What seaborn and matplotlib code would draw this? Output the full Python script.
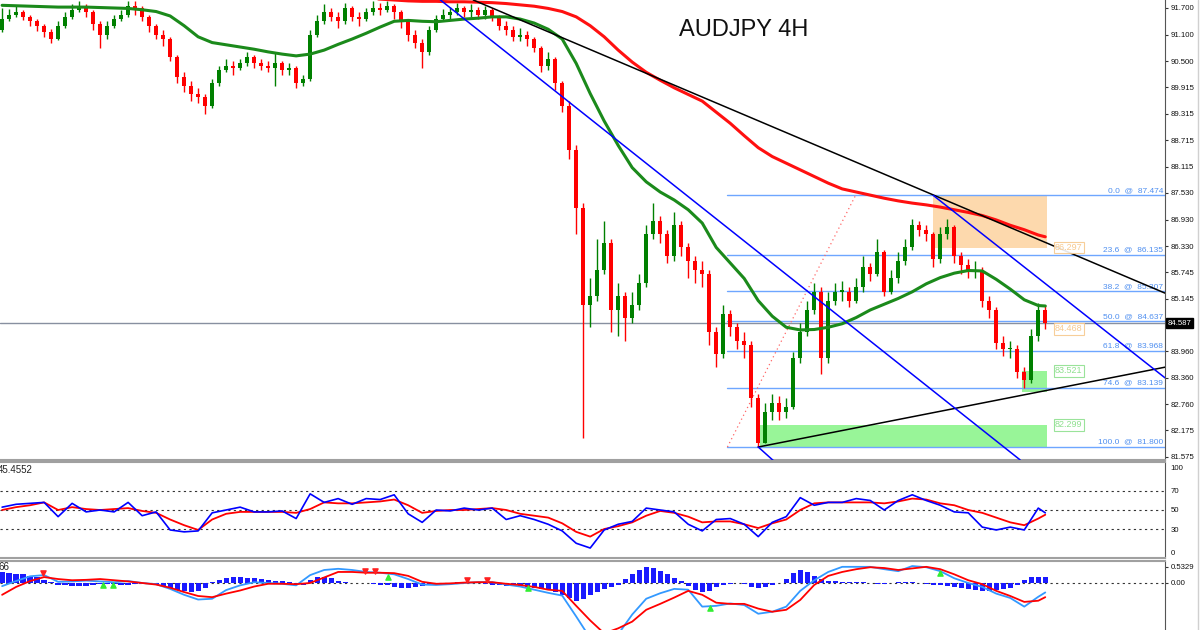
import numpy as np
import pandas as pd
import matplotlib
matplotlib.use("Agg")
import matplotlib.pyplot as plt
from matplotlib.lines import Line2D
import seaborn as sns

# ---------------- data ----------------
first_open = 91.20
close = [91.45, 91.55, 91.60, 91.50, 91.40, 91.30, 91.15, 91.00, 91.30, 91.50,
         91.65, 91.70, 91.60, 91.35, 91.10, 91.30, 91.45, 91.55, 91.75, 91.70,
         91.50, 91.30, 91.10, 91.00, 90.60, 90.15, 89.95, 89.75, 89.70, 89.50,
         90.00, 90.30, 90.40, 90.35, 90.45, 90.60, 90.45, 90.40, 90.35, 90.45,
         90.30, 90.35, 90.00, 90.10, 91.10, 91.40, 91.60, 91.50, 91.40, 91.70,
         91.50, 91.45, 91.60, 91.70, 91.65, 91.75, 91.60, 91.40, 91.10, 90.90,
         90.70, 91.20, 91.45, 91.55, 91.60, 91.70, 91.60, 91.65, 91.55, 91.65,
         91.50, 91.30, 91.20, 91.05, 91.10, 91.00, 90.80, 90.40, 90.55, 90.00,
         89.50, 88.50, 87.20, 85.00, 85.20, 85.80, 86.40, 84.90, 85.20, 84.70,
         85.00, 85.50, 86.60, 86.90, 86.60, 86.10, 86.80, 86.30, 86.00, 85.80,
         85.70, 84.40, 83.90, 84.80, 84.50, 84.20, 84.10, 82.90, 81.90, 82.60,
         82.80, 82.60, 82.70, 83.80, 84.40, 84.90, 85.30, 83.80, 85.10, 85.30,
         85.30, 85.10, 85.40, 85.85, 85.70, 86.20, 85.30, 85.60, 86.00, 86.30,
         86.80, 86.70, 86.60, 86.05, 86.60, 86.75, 86.10, 85.90, 85.75, 85.80,
         85.10, 84.90, 84.15, 84.00, 84.00, 83.50, 83.30, 84.30, 84.90, 84.587]
high = [91.70, 91.68, 91.75, 91.66, 91.55, 91.45, 91.35, 91.22, 91.40, 91.60,
        91.78, 91.85, 91.80, 91.65, 91.40, 91.40, 91.55, 91.65, 91.85, 91.85,
        91.75, 91.55, 91.35, 91.20, 91.05, 90.65, 90.25, 90.05, 89.90, 89.75,
        90.10, 90.40, 90.55, 90.50, 90.55, 90.70, 90.65, 90.55, 90.50, 90.70,
        90.50, 90.45, 90.40, 90.20, 91.20, 91.55, 91.80, 91.70, 91.60, 91.82,
        91.75, 91.60, 91.70, 91.85, 91.82, 91.85, 91.80, 91.65, 91.45, 91.20,
        91.00, 91.30, 91.55, 91.68, 91.72, 91.82, 91.75, 91.80, 91.72, 91.75,
        91.70, 91.55, 91.40, 91.30, 91.25, 91.18, 91.05, 90.85, 90.70, 90.60,
        90.05, 89.60, 88.60, 87.30, 85.60, 86.50, 86.90, 86.50, 85.50, 85.30,
        85.30, 85.70, 86.80, 87.30, 87.00, 86.70, 87.10, 86.90, 86.40, 86.10,
        86.00, 85.80, 84.50, 85.00, 84.90, 84.60, 84.40, 84.20, 83.00, 82.80,
        83.00, 82.95, 82.90, 83.95, 84.60, 85.10, 85.50, 85.40, 85.30, 85.50,
        85.55, 85.40, 85.60, 86.10, 85.95, 86.50, 86.25, 85.80, 86.20, 86.50,
        86.95, 86.90, 86.80, 86.65, 86.75, 86.95, 86.80, 86.20, 86.05, 86.00,
        85.85, 85.20, 84.95, 84.30, 84.20, 84.10, 83.60, 84.45, 85.05, 85.00]
low = [91.15, 91.40, 91.50, 91.42, 91.30, 91.18, 91.05, 90.90, 90.98, 91.25,
       91.45, 91.60, 91.50, 91.20, 90.80, 91.00, 91.25, 91.40, 91.50, 91.55,
       91.40, 91.15, 91.00, 90.85, 90.50, 90.00, 89.80, 89.60, 89.55, 89.30,
       89.45, 89.95, 90.25, 90.20, 90.30, 90.40, 90.35, 90.30, 90.25, 89.95,
       90.20, 90.20, 89.90, 89.95, 90.05, 91.05, 91.35, 91.40, 91.25, 91.35,
       91.40, 91.30, 91.40, 91.55, 91.55, 91.60, 91.45, 91.25, 90.95, 90.80,
       90.35, 90.65, 91.15, 91.40, 91.45, 91.55, 91.50, 91.50, 91.45, 91.45,
       91.40, 91.20, 91.10, 90.95, 90.95, 90.85, 90.70, 90.25, 90.30, 89.85,
       89.35, 88.30, 86.60, 82.00, 84.50, 85.10, 85.70, 84.40, 84.30, 84.20,
       84.60, 84.90, 85.40, 86.50, 86.40, 85.95, 86.00, 86.10, 85.60, 85.50,
       85.40, 84.10, 83.60, 83.80, 84.30, 84.00, 83.80, 82.70, 81.80, 81.90,
       82.40, 82.40, 82.45, 82.65, 83.70, 84.30, 84.80, 83.45, 83.70, 85.00,
       85.10, 84.95, 85.05, 85.30, 85.55, 85.65, 85.20, 85.25, 85.50, 85.90,
       86.25, 86.55, 86.45, 85.85, 85.95, 86.50, 85.95, 85.70, 85.60, 85.60,
       84.95, 84.70, 84.00, 83.85, 83.80, 83.35, 83.14, 83.25, 84.20, 84.45]

# moving averages (green fast, red slow), sampled every 2 bars
green_ma = [91.76, 91.75, 91.74, 91.73, 91.72, 91.72, 91.72, 91.71, 91.70, 91.69,
            91.66, 91.62, 91.52, 91.30, 91.05, 90.92, 90.87, 90.82, 90.77, 90.71,
            90.66, 90.62, 90.66, 90.75, 90.88, 91.00, 91.13, 91.27, 91.40, 91.42,
            91.40, 91.39, 91.42, 91.45, 91.47, 91.50, 91.50, 91.45, 91.36, 91.22,
            91.00, 90.45, 89.77, 89.15, 88.60, 88.10, 87.78, 87.55, 87.37, 87.15,
            86.85, 86.30, 85.95, 85.60, 85.10, 84.75, 84.50, 84.44, 84.45, 84.50,
            84.58, 84.72, 84.89, 85.02, 85.15, 85.30, 85.48, 85.62, 85.72, 85.78,
            85.77, 85.58, 85.36, 85.12, 84.99, 84.98]
red_ma_start = 52
red_ma = [91.92, 91.90, 91.88, 91.86, 91.85, 91.85, 91.84, 91.84, 91.83, 91.82,
          91.80, 91.77, 91.74, 91.69, 91.62, 91.50, 91.30, 91.05, 90.75, 90.48,
          90.25, 90.07, 89.90, 89.75, 89.60, 89.35, 89.10, 88.82, 88.55, 88.35,
          88.20, 88.05, 87.90, 87.75, 87.62, 87.55, 87.48, 87.41, 87.35, 87.30,
          87.26, 87.21, 87.15, 87.09, 87.02, 86.92, 86.80, 86.70, 86.58, 86.54]

# RSI(14) and its moving average, sampled every 2 bars
rsi = [53, 56, 57, 58, 43, 57, 48, 50, 48, 58, 44, 48, 29, 27, 28, 47, 50, 53, 48, 48,
       49, 41, 67, 58, 62, 56, 62, 61, 66, 46, 37, 50, 49, 52, 50, 52, 40, 44, 40, 35,
       28, 15, 10, 29, 35, 38, 52, 50, 48, 35, 28, 40, 41, 35, 22, 37, 43, 63, 55, 58,
       58, 62, 60, 50, 60, 66, 60, 55, 48, 47, 32, 29, 32, 29, 52, 47]
rsi_ma = [50, 53, 55, 58, 50, 53, 51, 50, 51, 52, 49, 47, 40, 34, 29, 40, 46, 48, 48, 48,
          48, 47, 51, 58, 57, 57, 58, 59, 61, 55, 47, 49, 50, 50, 51, 52, 50, 46, 44, 42,
          36, 27, 22, 30, 33, 37, 44, 49, 47, 43, 37, 38, 38, 35, 31, 36, 40, 50, 57, 58,
          58, 58, 58, 57, 59, 62, 61, 57, 55, 50, 47, 42, 37, 34, 41, 45]

# MACD main / signal (every 2 bars) and histogram (every bar)
macd_main = [-0.08, 0.05, 0.17, 0.20, 0.03, 0.04, 0.06, 0.04, 0.02, 0.05,
             0.00, -0.03, -0.15, -0.30, -0.42, -0.40, -0.18, -0.06, 0.02, 0.00,
             -0.02, -0.06, 0.20, 0.33, 0.36, 0.33, 0.28, 0.26, 0.22, 0.10,
             -0.04, -0.05, -0.03, 0.00, 0.02, 0.02, -0.04, -0.09, -0.17, -0.25,
             -0.32, -0.85, -1.40, -1.55, -1.30, -0.80, -0.40, -0.26, -0.15, -0.17,
             -0.60, -0.58, -0.52, -0.56, -0.78, -0.73, -0.60, -0.20, 0.07, 0.28,
             0.41, 0.41, 0.41, 0.35, 0.30, 0.43, 0.40, 0.30, 0.12, 0.00,
             -0.10, -0.27, -0.38, -0.60, -0.35, -0.24]
macd_signal = [-0.30, -0.10, 0.05, 0.15, 0.10, 0.07, 0.08, 0.10, 0.07, 0.04,
               0.00, -0.04, -0.12, -0.23, -0.33, -0.36, -0.27, -0.19, -0.09, -0.02,
               -0.02, -0.03, 0.00, 0.14, 0.28, 0.28, 0.26, 0.26, 0.25, 0.18,
               0.03, -0.02, -0.01, 0.01, 0.02, 0.02, -0.02, -0.05, -0.10, -0.17,
               -0.20, -0.58, -0.95, -1.28, -1.15, -0.98, -0.68, -0.53, -0.37, -0.20,
               -0.30, -0.50, -0.53, -0.53, -0.65, -0.73, -0.68, -0.43, -0.05, 0.18,
               0.28, 0.35, 0.40, 0.38, 0.33, 0.37, 0.41, 0.35, 0.22, 0.07,
               -0.03, -0.20, -0.33, -0.48, -0.45, -0.36]
macd_hist = [0.28, 0.26, 0.24, 0.22, 0.18, 0.14, 0.08, 0.03,
             -0.04, -0.06, -0.07, -0.08, -0.07, -0.05, -0.03,
             -0.02, -0.03, -0.04, -0.04, -0.03, -0.02, -0.03, -0.05,
             -0.08, -0.12, -0.17, -0.21, -0.23, -0.20, -0.12,
             0.02, 0.08, 0.12, 0.14, 0.14, 0.13, 0.12, 0.10, 0.08, 0.06,
             0.04, 0.02, -0.03, -0.04,
             0.08, 0.14, 0.15, 0.12,
             0.06, 0.03, 0.01, -0.01, 0.00, -0.02, -0.04, -0.06,
             -0.10, -0.13, -0.13, -0.11, -0.07, -0.04,
             -0.02, 0.00, 0.01, 0.02, 0.02, 0.01, -0.01, -0.03, -0.05,
             -0.06, -0.07, -0.08, -0.08, -0.10, -0.12, -0.14, -0.15,
             -0.22, -0.30, -0.38, -0.46, -0.40, -0.30,
             -0.22, -0.16, -0.10, -0.04,
             0.10, 0.22, 0.33, 0.40, 0.37, 0.30, 0.22,
             0.12, 0.05,
             -0.08, -0.17, -0.23, -0.20, -0.10,
             -0.05, -0.02, 0.00, -0.03,
             -0.10, -0.13, -0.10, -0.05,
             0.00, 0.10,
             0.25, 0.33, 0.28, 0.18,
             0.10, 0.06, 0.04, 0.03, 0.02, 0.03, 0.02, 0.00,
             -0.02, -0.02, 0.00, 0.02, 0.03, 0.02, 0.00,
             -0.03, -0.05, -0.06, -0.08, -0.10, -0.12, -0.14,
             -0.17, -0.20, -0.20, -0.18, -0.15, -0.12,
             -0.05,
             0.08, 0.14, 0.15, 0.15]
sell_arrows_t = [5.9, 51.9, 53.3, 66.4, 69.3]
sell_arrows_v = [0.25, 0.30, 0.30, 0.08, 0.08]
buy_arrows_t = [14.4, 15.9, 55.1, 75.1, 101.1, 134.0]
buy_arrows_v = [-0.05, -0.05, 0.15, -0.13, -0.63, 0.25]

# drawn objects (bar index, price)
black_down = ([67.3, 166.1], [91.88, 85.27])
black_up = ([108.0, 166.1], [81.80, 83.60])
blue_down = ([62.6, 145.4], [91.88, 81.51])
blue_upper = ([133.0, 166.1], [87.474, 83.36])
blue_short = ([108.0, 110.4], [81.80, 81.46])
fib_trend = ([103.6, 121.9], [81.80, 87.474])
fib_levels = ["0.0", "23.6", "38.2", "50.0", "61.8", "74.6", "100.0"]
fib_prices = [87.474, 86.135, 85.307, 84.637, 83.968, 83.139, 81.800]
last_price = 84.587
orange_zone = (132.9, 149.3, 86.297, 87.474)
green_zone_small = (145.7, 149.3, 83.05, 83.521)
green_zone_big = (108.3, 149.3, 81.80, 82.299)
zone_labels = [("86.297", 86.297, "#f7c98e"), ("84.468", 84.468, "#f7c98e"),
               ("83.521", 83.521, "#8fe08f"), ("82.299", 82.299, "#8fe08f")]

price_ticks = [91.700, 91.100, 90.500, 89.915, 89.315, 88.715, 88.115, 87.530,
               86.930, 86.330, 85.745, 85.145, 83.960, 83.360, 82.760, 82.175, 81.575]

# ---------------- figure ----------------
sns.set_style("white")
plt.rcParams["font.family"] = ["Liberation Sans", "DejaVu Sans"]

n = len(close)
t = np.arange(n)
opens = [first_open] + close[:-1]
df = pd.DataFrame({"t": t, "open": opens, "high": high, "low": low, "close": close})
df["up"] = df["close"] >= df["open"]

fig = plt.figure(figsize=(12, 6.3), dpi=100)
W = 1165 / 1200
ax = fig.add_axes([0, 170 / 630, W, 460 / 630])
ax_rsi = fig.add_axes([0, 72 / 630, W, 96 / 630])
ax_macd = fig.add_axes([0, 0, W, 69 / 630])

xlim = (-0.3, 166.1)
for a in (ax, ax_rsi, ax_macd):
    a.set_xlim(*xlim)
    a.set_xticks([])
    a.set_facecolor("white")
    a.yaxis.tick_right()
    a.tick_params(axis="y", labelsize=5.6, length=2.5, pad=1.5, width=0.8,
                  labelcolor="#111111", color="#333333")
    a.spines["left"].set_visible(False)
    a.spines["right"].set_color("#555555")
    for s in ("top", "bottom"):
        a.spines[s].set_color("#a0a0a0")
        a.spines[s].set_linewidth(1.5)
ax.spines["top"].set_visible(False)
ax_macd.spines["bottom"].set_visible(False)

# --- main price panel
ax.set_ylim(81.507, 91.880)
green_c, red_c = "#008000", "#ff0000"

# zones behind candles
for (x0, x1, y0, y1), col in [(orange_zone, "#fdd9ad"), (green_zone_small, "#98f598"),
                               (green_zone_big, "#98f598")]:
    ax.fill_between([x0, x1], y0, y1, color=col, lw=0, zorder=1)

# fib levels
for lvl, p in zip(fib_levels, fib_prices):
    ax.plot([fib_trend[0][0], xlim[1]], [p, p], color="#6ea6ff", lw=1, zorder=2)
    ax.text(xlim[1] - 0.3, p + 0.03, f"{lvl}  @  {p:.3f}", ha="right", va="bottom",
            fontsize=6, color="#4f8ff0", zorder=6)
ax.plot(*fib_trend, color="#ff6666", lw=0.9, ls=(0, (1, 2.5)), zorder=2)
ax.axhline(last_price, color="#8890a0", lw=1, zorder=2)

cols = np.where(df["up"], green_c, red_c)
ax.vlines(df["t"], df["low"], df["high"], colors=cols, lw=1, zorder=3)
body_lo = df[["open", "close"]].min(axis=1)
body_h = (df["close"] - df["open"]).abs().clip(lower=0.03)
ax.bar(df["t"], body_h, bottom=body_lo, width=0.55, color=cols, lw=0, zorder=4)

half_t = list(range(0, n, 2)) + [n - 1]
sns.lineplot(x=half_t, y=green_ma, ax=ax, color="#1b8a1b", lw=2.2, zorder=5, legend=False)
red_t = list(range(red_ma_start, n, 2)) + [n - 1]
sns.lineplot(x=red_t, y=red_ma, ax=ax, color="#ff1010", lw=2.2, zorder=5, legend=False)

for line, col in [(black_down, "black"), (black_up, "black"), (blue_down, "#0000ff"),
                  (blue_upper, "#0000ff"), (blue_short, "#0000ff")]:
    ax.plot(*line, color=col, lw=1.1, zorder=6)

for txt, p, col in zone_labels:
    ax.text(150.4, p, txt, fontsize=6.5, color=col, va="center", ha="left", zorder=7,
            bbox=dict(boxstyle="square,pad=0.15", fc="white", ec=col, lw=0.8, alpha=0.9))

ax.set_yticks(price_ticks)
ax.set_yticklabels([f"{v:.3f}" for v in price_ticks])
ax.annotate(f"{last_price:.3f}", xy=(1.0025, last_price), xycoords=("axes fraction", "data"),
            fontsize=5.6, color="white", va="center", ha="left",
            bbox=dict(boxstyle="square,pad=0.2", fc="black", ec="black"))
ax.text(0.638, 0.935, "AUDJPY 4H", transform=ax.transAxes, fontsize=17,
        ha="center", va="center", color="#111111")
ax.set_ylabel("")

# --- RSI panel
ax_rsi.set_ylim(-0.5, 100.5)
for lvl in (70, 50, 30):
    ax_rsi.axhline(lvl, color="#333333", lw=0.8, ls=(0, (2, 3)))
sns.lineplot(x=half_t, y=rsi_ma, ax=ax_rsi, color="#ff0000", lw=1.3, legend=False)
sns.lineplot(x=half_t, y=rsi, ax=ax_rsi, color="#0000ff", lw=1.2, legend=False)
ax_rsi.set_yticks([5, 30, 50, 70, 95])
ax_rsi.set_yticklabels(["0", "30", "50", "70", "100"])
ax_rsi.tick_params(axis="y", length=0, pad=4)
ax_rsi.text(-0.002, 0.92, "45.4552", transform=ax_rsi.transAxes, fontsize=7,
            va="center", ha="left", color="#222222")
ax_rsi.set_ylabel("")

# --- MACD panel
ax_macd.set_ylim(-1.193, 0.558)
ax_macd.bar(t, macd_hist, width=0.75, color="#1a1aff", lw=0, zorder=2)
ax_macd.axhline(0, color="#333333", lw=0.8, ls=(0, (2, 3)), zorder=1)
sns.lineplot(x=half_t, y=macd_main, ax=ax_macd, color="#3399ff", lw=1.3, legend=False)
sns.lineplot(x=half_t, y=macd_signal, ax=ax_macd, color="#ff0000", lw=1.3, legend=False)
ax_macd.scatter(sell_arrows_t, sell_arrows_v, marker="v", s=14, color="#ff2020", zorder=5)
ax_macd.scatter(buy_arrows_t, buy_arrows_v, marker="^", s=14, color="#33ee33", zorder=5)
ax_macd.set_yticks([0.41, 0.0])
ax_macd.set_yticklabels(["0.5329", "0.00"])
ax_macd.text(-0.001, 0.91, "66", transform=ax_macd.transAxes, fontsize=7,
             va="center", ha="left", color="#222222")
ax_macd.set_ylabel("")

fig.add_artist(Line2D([1198 / 1200] * 2, [0, 1], color="#d0d0d0", lw=1))

fig.savefig("out.png", dpi=100)
